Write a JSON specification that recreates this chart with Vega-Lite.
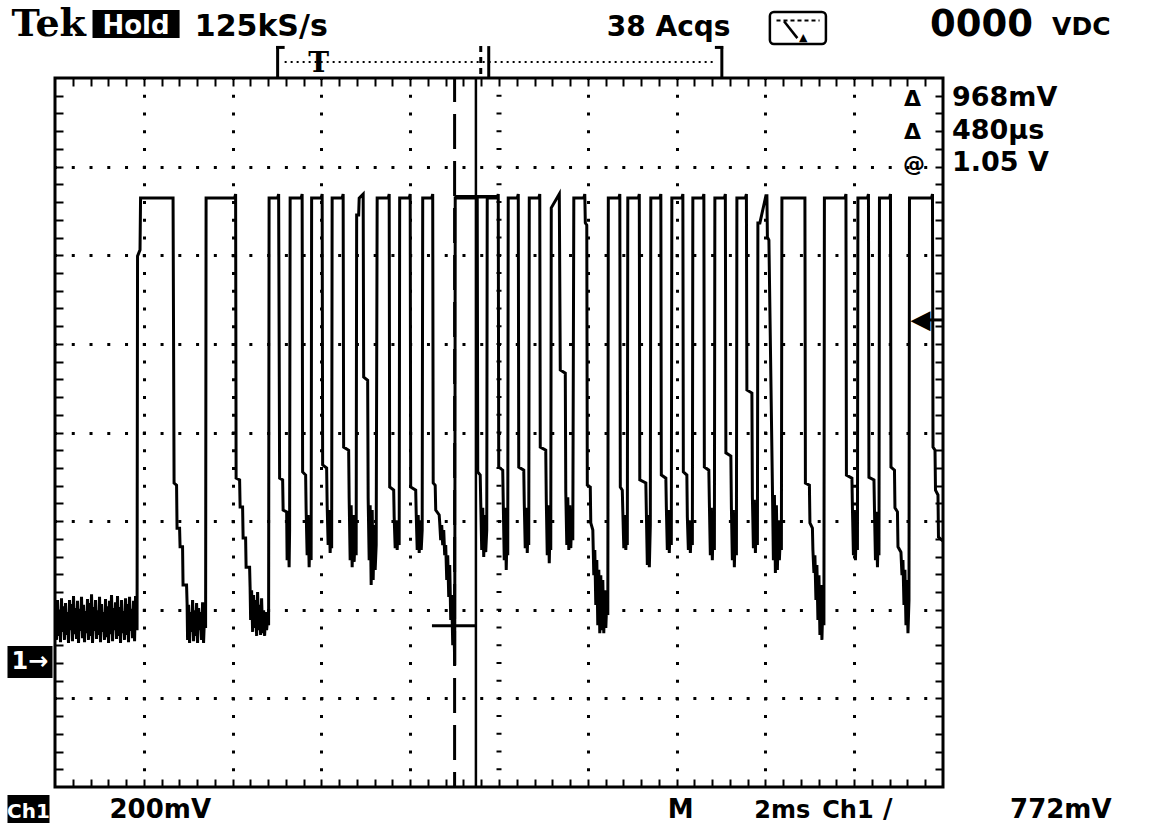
{
"$schema":"https://vega.github.io/schema/vega-lite/v6.json",
"width":888,"height":709,
"autosize":{"type":"none"},
"padding":{"left":55,"top":78,"right":213,"bottom":42},
"background":"white",
"config":{"view":{"stroke":"black","strokeWidth":3},"font":"DejaVu Sans"},
"resolve":{"axis":{"x":"independent","y":"independent"}},
"datasets":{"wave":[
{"t":0.011,"v":0.129},{"t":0.034,"v":0.050},{"t":0.056,"v":0.140},{"t":0.079,"v":0.059},{"t":0.101,"v":0.117},{"t":0.124,"v":0.045},{"t":0.146,"v":0.144},{"t":0.169,"v":0.068},{"t":0.192,"v":0.126},{"t":0.214,"v":0.050},{"t":0.237,"v":0.133},{"t":0.259,"v":0.061},{"t":0.282,"v":0.113},{"t":0.304,"v":0.043},{"t":0.327,"v":0.140},{"t":0.349,"v":0.072},{"t":0.372,"v":0.131},{"t":0.394,"v":0.047},{"t":0.417,"v":0.149},{"t":0.439,"v":0.063},{"t":0.462,"v":0.122},{"t":0.485,"v":0.052},{"t":0.507,"v":0.138},{"t":0.530,"v":0.043},{"t":0.552,"v":0.120},{"t":0.575,"v":0.070},{"t":0.597,"v":0.147},{"t":0.620,"v":0.054},{"t":0.642,"v":0.129},{"t":0.665,"v":0.045},{"t":0.687,"v":0.115},{"t":0.710,"v":0.065},{"t":0.732,"v":0.142},{"t":0.755,"v":0.050},{"t":0.777,"v":0.133},{"t":0.800,"v":0.059},{"t":0.823,"v":0.153},{"t":0.845,"v":0.043},{"t":0.868,"v":0.124},{"t":0.890,"v":0.070},{"t":0.913,"v":0.140},{"t":0.935,"v":0.052},{"t":0.958,"v":0.117},{"t":0.980,"v":0.061},{"t":1.003,"v":0.147},{"t":1.025,"v":0.045},{"t":1.048,"v":0.131},{"t":1.070,"v":0.068},{"t":1.093,"v":0.113},{"t":1.115,"v":0.050},{"t":1.138,"v":0.142},{"t":1.161,"v":0.056},{"t":1.183,"v":0.126},{"t":1.206,"v":0.043},{"t":1.228,"v":0.138},{"t":1.251,"v":0.063},{"t":1.273,"v":0.151},{"t":1.296,"v":0.047},{"t":1.318,"v":0.122},{"t":1.341,"v":0.072},{"t":1.363,"v":0.135},{"t":1.386,"v":0.052},{"t":1.408,"v":0.149},{"t":1.431,"v":0.059},{"t":1.454,"v":0.124},{"t":1.476,"v":0.043},{"t":1.499,"v":0.140},{"t":1.521,"v":0.065},{"t":1.544,"v":0.115},{"t":1.566,"v":0.050},{"t":1.589,"v":0.144},{"t":1.611,"v":0.061},{"t":1.634,"v":0.131},{"t":1.656,"v":0.045},{"t":1.679,"v":0.147},{"t":1.701,"v":0.070},{"t":1.724,"v":0.120},{"t":1.746,"v":0.054},{"t":1.769,"v":0.138},{"t":1.792,"v":0.047},{"t":1.814,"v":0.149},
{"t":1.848,"v":0.072},{"t":1.859,"v":0.916},{"t":1.915,"v":0.930},{"t":1.927,"v":1.047},{"t":2.659,"v":1.047},{"t":2.682,"v":0.404},{"t":2.738,"v":0.399},{"t":2.749,"v":0.302},{"t":2.806,"v":0.302},{"t":2.817,"v":0.260},{"t":2.873,"v":0.260},{"t":2.884,"v":0.174},{"t":2.963,"v":0.174},{"t":2.975,"v":0.133},
{"t":2.986,"v":0.050},{"t":3.008,"v":0.129},{"t":3.031,"v":0.043},{"t":3.053,"v":0.113},{"t":3.076,"v":0.068},{"t":3.099,"v":0.140},{"t":3.121,"v":0.047},{"t":3.144,"v":0.117},{"t":3.166,"v":0.059},{"t":3.189,"v":0.133},{"t":3.211,"v":0.043},{"t":3.234,"v":0.122},{"t":3.256,"v":0.072},{"t":3.279,"v":0.113},{"t":3.301,"v":0.050},{"t":3.324,"v":0.135},{"t":3.346,"v":0.043},{"t":3.369,"v":0.106},{"t":3.392,"v":0.077},
{"t":3.403,"v":1.047},{"t":4.045,"v":1.047},{"t":4.068,"v":1.056},{"t":4.079,"v":0.415},{"t":4.158,"v":0.411},{"t":4.169,"v":0.350},{"t":4.225,"v":0.350},{"t":4.237,"v":0.280},{"t":4.293,"v":0.280},{"t":4.304,"v":0.214},{"t":4.383,"v":0.214},{"t":4.394,"v":0.169},
{"t":4.406,"v":0.095},{"t":4.428,"v":0.162},{"t":4.451,"v":0.068},{"t":4.473,"v":0.151},{"t":4.496,"v":0.077},{"t":4.518,"v":0.140},{"t":4.541,"v":0.059},{"t":4.563,"v":0.158},{"t":4.586,"v":0.072},{"t":4.608,"v":0.129},{"t":4.631,"v":0.061},{"t":4.653,"v":0.144},{"t":4.676,"v":0.065},{"t":4.699,"v":0.117},{"t":4.721,"v":0.059},{"t":4.744,"v":0.113},{"t":4.766,"v":0.072},{"t":4.789,"v":0.099},{"t":4.811,"v":0.083},
{"t":4.822,"v":1.047},{"t":5.014,"v":1.047},{"t":5.037,"v":1.056},{"t":5.059,"v":0.415},{"t":5.127,"v":0.411},{"t":5.138,"v":0.343},{"t":5.217,"v":0.339},{"t":5.228,"v":0.230},{"t":5.251,"v":0.332},{"t":5.273,"v":0.214},{"t":5.284,"v":0.298},
{"t":5.296,"v":1.047},{"t":5.544,"v":1.047},{"t":5.566,"v":1.056},{"t":5.577,"v":0.429},{"t":5.645,"v":0.422},{"t":5.656,"v":0.343},{"t":5.679,"v":0.241},{"t":5.701,"v":0.332},{"t":5.724,"v":0.214},{"t":5.747,"v":0.309},{"t":5.769,"v":0.230},
{"t":5.780,"v":1.047},{"t":5.994,"v":1.047},{"t":6.017,"v":1.056},{"t":6.028,"v":0.445},{"t":6.118,"v":0.438},{"t":6.130,"v":0.352},{"t":6.152,"v":0.264},{"t":6.175,"v":0.343},{"t":6.197,"v":0.246},{"t":6.220,"v":0.320},{"t":6.231,"v":0.257},
{"t":6.242,"v":1.047},{"t":6.467,"v":1.047},{"t":6.490,"v":1.056},{"t":6.501,"v":0.485},{"t":6.614,"v":0.478},{"t":6.625,"v":0.370},{"t":6.648,"v":0.230},{"t":6.670,"v":0.354},{"t":6.693,"v":0.214},{"t":6.716,"v":0.332},{"t":6.738,"v":0.226},{"t":6.761,"v":0.298},{"t":6.783,"v":0.241},
{"t":6.794,"v":1.009},{"t":6.839,"v":1.009},{"t":6.851,"v":1.047},{"t":6.941,"v":1.056},{"t":6.952,"v":0.643},{"t":7.042,"v":0.636},{"t":7.053,"v":0.370},{"t":7.076,"v":0.230},{"t":7.098,"v":0.354},{"t":7.121,"v":0.174},{"t":7.144,"v":0.343},{"t":7.166,"v":0.185},{"t":7.189,"v":0.309},{"t":7.211,"v":0.208},{"t":7.234,"v":0.264},
{"t":7.256,"v":1.047},{"t":7.504,"v":1.047},{"t":7.527,"v":1.056},{"t":7.538,"v":0.395},{"t":7.628,"v":0.388},{"t":7.639,"v":0.327},{"t":7.662,"v":0.257},{"t":7.684,"v":0.320},{"t":7.707,"v":0.253},{"t":7.729,"v":0.309},{"t":7.752,"v":0.264},
{"t":7.763,"v":1.047},{"t":7.977,"v":1.047},{"t":8.000,"v":1.056},{"t":8.011,"v":0.395},{"t":8.124,"v":0.388},{"t":8.135,"v":0.336},{"t":8.158,"v":0.253},{"t":8.180,"v":0.332},{"t":8.203,"v":0.246},{"t":8.225,"v":0.320},{"t":8.248,"v":0.253},{"t":8.270,"v":0.298},
{"t":8.282,"v":1.047},{"t":8.485,"v":1.047},{"t":8.507,"v":1.056},{"t":8.518,"v":0.404},{"t":8.563,"v":0.399},{"t":8.575,"v":0.343},{"t":8.653,"v":0.332},{"t":8.665,"v":0.314},{"t":8.687,"v":0.275},{"t":8.710,"v":0.309},{"t":8.732,"v":0.264},{"t":8.755,"v":0.298},{"t":8.777,"v":0.241},{"t":8.800,"v":0.264},{"t":8.823,"v":0.185},{"t":8.845,"v":0.241},{"t":8.868,"v":0.147},{"t":8.890,"v":0.219},{"t":8.913,"v":0.095},{"t":8.935,"v":0.151},{"t":8.958,"v":0.038},{"t":8.980,"v":0.117},{"t":9.003,"v":-0.007},
{"t":9.014,"v":1.047},{"t":9.510,"v":1.047},{"t":9.521,"v":0.429},{"t":9.577,"v":0.422},{"t":9.589,"v":0.359},{"t":9.611,"v":0.253},{"t":9.634,"v":0.348},{"t":9.656,"v":0.237},{"t":9.679,"v":0.332},{"t":9.701,"v":0.248},{"t":9.724,"v":0.298},
{"t":9.735,"v":1.047},{"t":9.960,"v":1.047},{"t":9.983,"v":1.056},{"t":9.994,"v":0.440},{"t":10.084,"v":0.433},{"t":10.096,"v":0.359},{"t":10.118,"v":0.230},{"t":10.141,"v":0.348},{"t":10.163,"v":0.208},{"t":10.186,"v":0.320},{"t":10.197,"v":0.241},
{"t":10.208,"v":1.047},{"t":10.411,"v":1.047},{"t":10.434,"v":1.056},{"t":10.445,"v":0.440},{"t":10.558,"v":0.433},{"t":10.569,"v":0.359},{"t":10.591,"v":0.257},{"t":10.614,"v":0.348},{"t":10.637,"v":0.246},{"t":10.659,"v":0.332},{"t":10.670,"v":0.264},
{"t":10.682,"v":1.047},{"t":10.896,"v":1.047},{"t":10.918,"v":1.056},{"t":10.929,"v":0.485},{"t":11.053,"v":0.478},{"t":11.065,"v":0.366},{"t":11.087,"v":0.241},{"t":11.110,"v":0.354},{"t":11.132,"v":0.223},{"t":11.155,"v":0.332},{"t":11.166,"v":0.253},
{"t":11.177,"v":1.025},{"t":11.358,"v":1.056},{"t":11.380,"v":0.659},{"t":11.493,"v":0.652},{"t":11.504,"v":0.384},{"t":11.527,"v":0.264},{"t":11.549,"v":0.372},{"t":11.572,"v":0.253},{"t":11.594,"v":0.354},{"t":11.617,"v":0.257},{"t":11.640,"v":0.332},{"t":11.662,"v":0.275},
{"t":11.685,"v":1.047},{"t":11.910,"v":1.047},{"t":11.932,"v":1.056},{"t":11.944,"v":0.991},{"t":11.977,"v":0.986},{"t":11.989,"v":0.399},{"t":12.056,"v":0.395},{"t":12.067,"v":0.314},{"t":12.113,"v":0.298},{"t":12.135,"v":0.196},{"t":12.158,"v":0.253},{"t":12.180,"v":0.129},{"t":12.203,"v":0.230},{"t":12.225,"v":0.083},{"t":12.248,"v":0.208},{"t":12.270,"v":0.065},{"t":12.293,"v":0.196},{"t":12.315,"v":0.072},{"t":12.338,"v":0.185},{"t":12.360,"v":0.065},{"t":12.383,"v":0.162},{"t":12.406,"v":0.077},{"t":12.428,"v":0.140},{"t":12.451,"v":0.106},
{"t":12.462,"v":1.047},{"t":12.699,"v":1.047},{"t":12.721,"v":1.056},{"t":12.732,"v":0.395},{"t":12.777,"v":0.388},{"t":12.789,"v":0.339},{"t":12.811,"v":0.257},{"t":12.834,"v":0.332},{"t":12.856,"v":0.253},{"t":12.879,"v":0.320},{"t":12.890,"v":0.264},
{"t":12.901,"v":1.047},{"t":13.138,"v":1.047},{"t":13.160,"v":1.056},{"t":13.171,"v":0.411},{"t":13.307,"v":0.404},{"t":13.318,"v":0.343},{"t":13.341,"v":0.219},{"t":13.363,"v":0.332},{"t":13.386,"v":0.214},{"t":13.408,"v":0.309},
{"t":13.419,"v":1.047},{"t":13.622,"v":1.047},{"t":13.645,"v":1.056},{"t":13.656,"v":0.422},{"t":13.758,"v":0.415},{"t":13.769,"v":0.350},{"t":13.791,"v":0.253},{"t":13.814,"v":0.343},{"t":13.836,"v":0.246},{"t":13.859,"v":0.325},{"t":13.881,"v":0.264},
{"t":13.893,"v":1.047},{"t":14.118,"v":1.047},{"t":14.141,"v":1.056},{"t":14.152,"v":0.429},{"t":14.231,"v":0.422},{"t":14.242,"v":0.327},{"t":14.265,"v":0.253},{"t":14.287,"v":0.320},{"t":14.310,"v":0.246},{"t":14.332,"v":0.309},{"t":14.355,"v":0.264},
{"t":14.366,"v":1.047},{"t":14.591,"v":1.047},{"t":14.614,"v":1.056},{"t":14.625,"v":0.440},{"t":14.726,"v":0.433},{"t":14.738,"v":0.359},{"t":14.760,"v":0.241},{"t":14.783,"v":0.348},{"t":14.805,"v":0.230},{"t":14.828,"v":0.332},{"t":14.851,"v":0.253},
{"t":14.862,"v":1.047},{"t":15.076,"v":1.047},{"t":15.098,"v":1.056},{"t":15.110,"v":0.472},{"t":15.222,"v":0.465},{"t":15.234,"v":0.350},{"t":15.256,"v":0.230},{"t":15.279,"v":0.343},{"t":15.301,"v":0.214},{"t":15.324,"v":0.325},{"t":15.347,"v":0.241},
{"t":15.358,"v":1.047},{"t":15.549,"v":1.047},{"t":15.572,"v":1.056},{"t":15.583,"v":0.614},{"t":15.696,"v":0.607},{"t":15.707,"v":0.372},{"t":15.730,"v":0.257},{"t":15.752,"v":0.366},{"t":15.775,"v":0.246},{"t":15.797,"v":0.343},{"t":15.820,"v":0.264},
{"t":15.831,"v":0.991},{"t":15.876,"v":0.991},{"t":16.011,"v":1.052},{"t":16.034,"v":1.052},{"t":16.045,"v":0.959},{"t":16.079,"v":0.952},{"t":16.158,"v":0.395},{"t":16.180,"v":0.230},{"t":16.203,"v":0.377},{"t":16.225,"v":0.201},{"t":16.248,"v":0.354},{"t":16.270,"v":0.208},{"t":16.293,"v":0.320},{"t":16.315,"v":0.230},{"t":16.338,"v":0.287},{"t":16.360,"v":0.253},
{"t":16.372,"v":1.047},{"t":16.890,"v":1.047},{"t":16.901,"v":0.404},{"t":16.991,"v":0.399},{"t":17.003,"v":0.314},{"t":17.059,"v":0.302},{"t":17.070,"v":0.253},{"t":17.093,"v":0.201},{"t":17.115,"v":0.241},{"t":17.138,"v":0.140},{"t":17.160,"v":0.219},{"t":17.183,"v":0.095},{"t":17.206,"v":0.196},{"t":17.228,"v":0.061},{"t":17.251,"v":0.174},{"t":17.273,"v":0.050},{"t":17.296,"v":0.140},{"t":17.318,"v":0.083},
{"t":17.329,"v":1.047},{"t":17.791,"v":1.047},{"t":17.814,"v":1.056},{"t":17.825,"v":0.422},{"t":17.949,"v":0.415},{"t":17.960,"v":0.348},{"t":17.983,"v":0.241},{"t":18.005,"v":0.343},{"t":18.028,"v":0.230},{"t":18.051,"v":0.325},{"t":18.073,"v":0.253},
{"t":18.084,"v":1.047},{"t":18.298,"v":1.047},{"t":18.321,"v":1.056},{"t":18.332,"v":0.417},{"t":18.445,"v":0.411},{"t":18.456,"v":0.348},{"t":18.479,"v":0.230},{"t":18.501,"v":0.339},{"t":18.524,"v":0.214},{"t":18.546,"v":0.320},{"t":18.558,"v":0.241},
{"t":18.569,"v":1.047},{"t":18.794,"v":1.047},{"t":18.817,"v":1.056},{"t":18.828,"v":0.440},{"t":18.907,"v":0.433},{"t":18.918,"v":0.348},{"t":18.974,"v":0.339},{"t":18.986,"v":0.260},{"t":19.053,"v":0.248},{"t":19.076,"v":0.196},{"t":19.098,"v":0.230},{"t":19.121,"v":0.129},{"t":19.143,"v":0.208},{"t":19.166,"v":0.083},{"t":19.188,"v":0.185},{"t":19.211,"v":0.065},{"t":19.234,"v":0.140},
{"t":19.245,"v":1.047},{"t":19.741,"v":1.047},{"t":19.763,"v":1.056},{"t":19.775,"v":0.485},{"t":19.820,"v":0.478},{"t":19.831,"v":0.388},{"t":19.887,"v":0.377},{"t":19.898,"v":0.282},{"t":19.977,"v":0.275}
]},
"layer":[
{"data":{"values":[{}]},"mark":{"type":"point","opacity":0},
 "encoding":{
  "x":{"datum":1,"type":"quantitative","scale":{"domain":[0,20],"nice":false,"zero":false},"axis":{"orient":"bottom","values":[2,4,6,8,12,14,16,18],"grid":true,"gridColor":"black","gridWidth":3,"gridOpacity":1,"gridDash":[3,14.725],"gridDashOffset":1.5,"ticks":false,"labels":false,"domain":false,"title":null}},
  "y":{"datum":0.5,"type":"quantitative","scale":{"domain":[-0.282,1.318],"nice":false,"zero":false},"axis":{"orient":"left","values":[-0.082,0.118,0.318,0.518,0.718,0.918,1.118],"grid":true,"gridColor":"black","gridWidth":3,"gridOpacity":1,"gridDash":[3,14.76],"gridDashOffset":1.5,"ticks":false,"labels":false,"domain":false,"title":null}}}},
{"data":{"values":[{}]},"mark":{"type":"point","opacity":0},
 "encoding":{
  "x":{"datum":1,"type":"quantitative","scale":{"domain":[0,20],"nice":false,"zero":false},"axis":{"orient":"bottom","values":[0.4,0.8,1.2,1.6,2,2.4,2.8,3.2,3.6,4,4.4,4.8,5.2,5.6,6,6.4,6.8,7.2,7.6,8,8.4,8.8,9.2,9.6,10,10.4,10.8,11.2,11.6,12,12.4,12.8,13.2,13.6,14,14.4,14.8,15.2,15.6,16,16.4,16.8,17.2,17.6,18,18.4,18.8,19.2,19.6],"grid":false,"ticks":true,"tickSize":-8,"tickWidth":2,"tickColor":"black","tickOpacity":1,"labels":false,"domain":false,"title":null}},
  "y":{"datum":0.5,"type":"quantitative","scale":{"domain":[-0.282,1.318],"nice":false,"zero":false},"axis":{"orient":"left","values":[-0.242,-0.202,-0.162,-0.122,-0.082,-0.042,-0.002,0.038,0.078,0.118,0.158,0.198,0.238,0.278,0.318,0.358,0.398,0.438,0.478,0.518,0.558,0.598,0.638,0.678,0.718,0.758,0.798,0.838,0.878,0.918,0.958,0.998,1.038,1.078,1.118,1.158,1.198,1.238,1.278],"grid":false,"ticks":true,"tickSize":-8,"tickWidth":2,"tickColor":"black","tickOpacity":1,"labels":false,"domain":false,"title":null}}}},
{"data":{"values":[{}]},"mark":{"type":"point","opacity":0},
 "encoding":{
  "x":{"datum":1,"type":"quantitative","scale":{"domain":[0,20],"nice":false,"zero":false},"axis":{"orient":"top","values":[0.4,0.8,1.2,1.6,2,2.4,2.8,3.2,3.6,4,4.4,4.8,5.2,5.6,6,6.4,6.8,7.2,7.6,8,8.4,8.8,9.2,9.6,10,10.4,10.8,11.2,11.6,12,12.4,12.8,13.2,13.6,14,14.4,14.8,15.2,15.6,16,16.4,16.8,17.2,17.6,18,18.4,18.8,19.2,19.6],"grid":false,"ticks":true,"tickSize":-8,"tickWidth":2,"tickColor":"black","tickOpacity":1,"labels":false,"domain":false,"title":null}},
  "y":{"datum":0.5,"type":"quantitative","scale":{"domain":[-0.282,1.318],"nice":false,"zero":false},"axis":{"orient":"right","values":[-0.242,-0.202,-0.162,-0.122,-0.082,-0.042,-0.002,0.038,0.078,0.118,0.158,0.198,0.238,0.278,0.318,0.358,0.398,0.438,0.478,0.518,0.558,0.598,0.638,0.678,0.718,0.758,0.798,0.838,0.878,0.918,0.958,0.998,1.038,1.078,1.118,1.158,1.198,1.238,1.278],"grid":false,"ticks":true,"tickSize":-8,"tickWidth":2,"tickColor":"black","tickOpacity":1,"labels":false,"domain":false,"title":null}}}},
{"data":{"values":[{}]},"mark":{"type":"rule","color":"black","strokeWidth":5,"strokeDash":[2,15.725],"strokeDashOffset":1},
 "encoding":{"x":{"datum":10,"type":"quantitative","scale":{"domain":[0,20],"nice":false,"zero":false},"axis":null},"y":{"datum":1.318,"type":"quantitative","scale":{"domain":[-0.282,1.318],"nice":false,"zero":false},"axis":null},"y2":{"datum":-0.282}}},
{"data":{"name":"wave"},"mark":{"type":"line","color":"black","strokeWidth":3,"strokeJoin":"miter","strokeCap":"square"},
 "encoding":{"x":{"field":"t","type":"quantitative","scale":{"domain":[0,20],"nice":false,"zero":false},"axis":null},"y":{"field":"v","type":"quantitative","scale":{"domain":[-0.282,1.318],"nice":false,"zero":false},"axis":null},"order":{"value":null}}},
{"data":{"values":[{}]},"mark":{"type":"rule","color":"black","strokeWidth":3,"strokeDash":[35,12],"strokeDashOffset":11},
 "encoding":{"x":{"datum":9.0,"type":"quantitative","scale":{"domain":[0,20],"nice":false,"zero":false},"axis":null},"y":{"datum":1.318,"type":"quantitative","scale":{"domain":[-0.282,1.318],"nice":false,"zero":false},"axis":null},"y2":{"datum":-0.282}}},
{"data":{"values":[{}]},"mark":{"type":"rule","color":"black","strokeWidth":2.5},
 "encoding":{"x":{"datum":9.48,"type":"quantitative","scale":{"domain":[0,20],"nice":false,"zero":false},"axis":null},"y":{"datum":1.318,"type":"quantitative","scale":{"domain":[-0.282,1.318],"nice":false,"zero":false},"axis":null},"y2":{"datum":-0.282}}},
{"data":{"values":[{}]},"mark":{"type":"rule","color":"black","strokeWidth":3.5},
 "encoding":{"x":{"datum":9.0,"type":"quantitative","scale":{"domain":[0,20],"nice":false,"zero":false},"axis":null},"x2":{"datum":9.97},"y":{"datum":1.05,"type":"quantitative","scale":{"domain":[-0.282,1.318],"nice":false,"zero":false},"axis":null}}},
{"data":{"values":[{}]},"mark":{"type":"rule","color":"black","strokeWidth":3},
 "encoding":{"x":{"datum":8.49,"type":"quantitative","scale":{"domain":[0,20],"nice":false,"zero":false},"axis":null},"x2":{"datum":9.48},"y":{"datum":0.082,"type":"quantitative","scale":{"domain":[-0.282,1.318],"nice":false,"zero":false},"axis":null}}},
{"data":{"values":[{}]},"mark":{"type":"rule","color":"black","strokeWidth":3},
 "encoding":{"x":{"datum":19.55,"type":"quantitative","scale":{"domain":[0,20],"nice":false,"zero":false},"axis":null},"x2":{"datum":20},"y":{"datum":0.772,"type":"quantitative","scale":{"domain":[-0.282,1.318],"nice":false,"zero":false},"axis":null}}},
{"data":{"values":[{}]},"mark":{"type":"text","text":"◀","fontSize":26,"align":"left","baseline":"middle","color":"black"},
 "encoding":{"x":{"datum":19.27,"type":"quantitative","scale":{"domain":[0,20],"nice":false,"zero":false},"axis":null},"y":{"datum":0.772,"type":"quantitative","scale":{"domain":[-0.282,1.318],"nice":false,"zero":false},"axis":null}}},
{"data":{"values":[{}]},"mark":{"type":"text","text":"Tek","font":"DejaVu Serif","fontWeight":"bold","fontSize":38,"align":"left","baseline":"alphabetic","color":"black"},
 "encoding":{"x":{"datum":-0.98,"type":"quantitative","scale":{"domain":[0,20],"nice":false,"zero":false},"axis":null},"y":{"datum":1.413,"type":"quantitative","scale":{"domain":[-0.282,1.318],"nice":false,"zero":false},"axis":null}}},
{"data":{"values":[{}]},"mark":{"type":"rect","color":"black"},
 "encoding":{"x":{"datum":0.845,"type":"quantitative","scale":{"domain":[0,20],"nice":false,"zero":false},"axis":null},"x2":{"datum":2.806},"y":{"datum":1.4714,"type":"quantitative","scale":{"domain":[-0.282,1.318],"nice":false,"zero":false},"axis":null},"y2":{"datum":1.4082}}},
{"data":{"values":[{}]},"mark":{"type":"text","text":"Hold","fontWeight":"bold","fontSize":26,"align":"center","baseline":"alphabetic","color":"white"},
 "encoding":{"x":{"datum":1.825,"type":"quantitative","scale":{"domain":[0,20],"nice":false,"zero":false},"axis":null},"y":{"datum":1.4172,"type":"quantitative","scale":{"domain":[-0.282,1.318],"nice":false,"zero":false},"axis":null}}},
{"data":{"values":[{}]},"mark":{"type":"text","text":"125kS/s","fontWeight":"bold","fontSize":30,"align":"left","baseline":"alphabetic","color":"black"},
 "encoding":{"x":{"datum":3.148,"type":"quantitative","scale":{"domain":[0,20],"nice":false,"zero":false},"axis":null},"y":{"datum":1.413,"type":"quantitative","scale":{"domain":[-0.282,1.318],"nice":false,"zero":false},"axis":null}}},
{"data":{"values":[{}]},"mark":{"type":"text","text":"38 Acqs","fontWeight":"bold","fontSize":28,"align":"left","baseline":"alphabetic","color":"black"},
 "encoding":{"x":{"datum":12.428,"type":"quantitative","scale":{"domain":[0,20],"nice":false,"zero":false},"axis":null},"y":{"datum":1.413,"type":"quantitative","scale":{"domain":[-0.282,1.318],"nice":false,"zero":false},"axis":null}}},
{"data":{"values":[{}]},"mark":{"type":"rect","fill":null,"stroke":"black","strokeWidth":2.5,"cornerRadius":4},
 "encoding":{"x":{"datum":16.101,"type":"quantitative","scale":{"domain":[0,20],"nice":false,"zero":false},"axis":null},"x2":{"datum":17.363},"y":{"datum":1.4669,"type":"quantitative","scale":{"domain":[-0.282,1.318],"nice":false,"zero":false},"axis":null},"y2":{"datum":1.3946}}},
{"data":{"values":[{}]},"mark":{"type":"rule","color":"black","strokeWidth":2,"strokeDash":[4,3]},
 "encoding":{"x":{"datum":16.25,"type":"quantitative","scale":{"domain":[0,20],"nice":false,"zero":false},"axis":null},"x2":{"datum":17.22},"y":{"datum":1.448,"type":"quantitative","scale":{"domain":[-0.282,1.318],"nice":false,"zero":false},"axis":null}}},
{"data":{"values":[{}]},"mark":{"type":"rule","color":"black","strokeWidth":2.5},
 "encoding":{"x":{"datum":16.42,"type":"quantitative","scale":{"domain":[0,20],"nice":false,"zero":false},"axis":null},"x2":{"datum":16.72},"y":{"datum":1.446,"type":"quantitative","scale":{"domain":[-0.282,1.318],"nice":false,"zero":false},"axis":null},"y2":{"datum":1.408}}},
{"data":{"values":[{}]},"mark":{"type":"text","text":"▲","fontSize":11,"align":"center","baseline":"alphabetic","color":"black"},
 "encoding":{"x":{"datum":16.85,"type":"quantitative","scale":{"domain":[0,20],"nice":false,"zero":false},"axis":null},"y":{"datum":1.402,"type":"quantitative","scale":{"domain":[-0.282,1.318],"nice":false,"zero":false},"axis":null}}},
{"data":{"values":[{}]},"mark":{"type":"text","text":"0000","fontWeight":"bold","fontSize":37,"align":"left","baseline":"alphabetic","color":"black"},
 "encoding":{"x":{"datum":19.707,"type":"quantitative","scale":{"domain":[0,20],"nice":false,"zero":false},"axis":null},"y":{"datum":1.413,"type":"quantitative","scale":{"domain":[-0.282,1.318],"nice":false,"zero":false},"axis":null}}},
{"data":{"values":[{}]},"mark":{"type":"text","text":"VDC","fontWeight":"bold","fontSize":25,"align":"left","baseline":"alphabetic","color":"black"},
 "encoding":{"x":{"datum":22.456,"type":"quantitative","scale":{"domain":[0,20],"nice":false,"zero":false},"axis":null},"y":{"datum":1.416,"type":"quantitative","scale":{"domain":[-0.282,1.318],"nice":false,"zero":false},"axis":null}}},
{"data":{"values":[{}]},"mark":{"type":"rule","color":"black","strokeWidth":3},
 "encoding":{"x":{"datum":5.014,"type":"quantitative","scale":{"domain":[0,20],"nice":false,"zero":false},"axis":null},"y":{"datum":1.390,"type":"quantitative","scale":{"domain":[-0.282,1.318],"nice":false,"zero":false},"axis":null},"y2":{"datum":1.318}}},
{"data":{"values":[{}]},"mark":{"type":"rule","color":"black","strokeWidth":3},
 "encoding":{"x":{"datum":4.98,"type":"quantitative","scale":{"domain":[0,20],"nice":false,"zero":false},"axis":null},"x2":{"datum":5.172},"y":{"datum":1.387,"type":"quantitative","scale":{"domain":[-0.282,1.318],"nice":false,"zero":false},"axis":null}}},
{"data":{"values":[{}]},"mark":{"type":"rule","color":"black","strokeWidth":2,"strokeDash":[2,4]},
 "encoding":{"x":{"datum":5.172,"type":"quantitative","scale":{"domain":[0,20],"nice":false,"zero":false},"axis":null},"x2":{"datum":14.884},"y":{"datum":1.354,"type":"quantitative","scale":{"domain":[-0.282,1.318],"nice":false,"zero":false},"axis":null}}},
{"data":{"values":[{}]},"mark":{"type":"text","text":"T","font":"DejaVu Serif","fontWeight":"bold","fontSize":28,"align":"center","baseline":"alphabetic","color":"black"},
 "encoding":{"x":{"datum":5.938,"type":"quantitative","scale":{"domain":[0,20],"nice":false,"zero":false},"axis":null},"y":{"datum":1.331,"type":"quantitative","scale":{"domain":[-0.282,1.318],"nice":false,"zero":false},"axis":null}}},
{"data":{"values":[{}]},"mark":{"type":"rule","color":"black","strokeWidth":3,"strokeDash":[6,5]},
 "encoding":{"x":{"datum":9.589,"type":"quantitative","scale":{"domain":[0,20],"nice":false,"zero":false},"axis":null},"y":{"datum":1.390,"type":"quantitative","scale":{"domain":[-0.282,1.318],"nice":false,"zero":false},"axis":null},"y2":{"datum":1.318}}},
{"data":{"values":[{}]},"mark":{"type":"rule","color":"black","strokeWidth":3},
 "encoding":{"x":{"datum":9.769,"type":"quantitative","scale":{"domain":[0,20],"nice":false,"zero":false},"axis":null},"y":{"datum":1.390,"type":"quantitative","scale":{"domain":[-0.282,1.318],"nice":false,"zero":false},"axis":null},"y2":{"datum":1.318}}},
{"data":{"values":[{}]},"mark":{"type":"rule","color":"black","strokeWidth":3},
 "encoding":{"x":{"datum":15.019,"type":"quantitative","scale":{"domain":[0,20],"nice":false,"zero":false},"axis":null},"y":{"datum":1.390,"type":"quantitative","scale":{"domain":[-0.282,1.318],"nice":false,"zero":false},"axis":null},"y2":{"datum":1.318}}},
{"data":{"values":[{}]},"mark":{"type":"rule","color":"black","strokeWidth":3},
 "encoding":{"x":{"datum":14.862,"type":"quantitative","scale":{"domain":[0,20],"nice":false,"zero":false},"axis":null},"x2":{"datum":15.05},"y":{"datum":1.387,"type":"quantitative","scale":{"domain":[-0.282,1.318],"nice":false,"zero":false},"axis":null}}},
{"data":{"values":[{}]},"mark":{"type":"text","text":"Δ","fontWeight":"bold","fontSize":22,"align":"left","baseline":"alphabetic","color":"black"},
 "encoding":{"x":{"datum":19.12,"type":"quantitative","scale":{"domain":[0,20],"nice":false,"zero":false},"axis":null},"y":{"datum":1.2547,"type":"quantitative","scale":{"domain":[-0.282,1.318],"nice":false,"zero":false},"axis":null}}},
{"data":{"values":[{}]},"mark":{"type":"text","text":"Δ","fontWeight":"bold","fontSize":22,"align":"left","baseline":"alphabetic","color":"black"},
 "encoding":{"x":{"datum":19.12,"type":"quantitative","scale":{"domain":[0,20],"nice":false,"zero":false},"axis":null},"y":{"datum":1.1803,"type":"quantitative","scale":{"domain":[-0.282,1.318],"nice":false,"zero":false},"axis":null}}},
{"data":{"values":[{}]},"mark":{"type":"text","text":"@","fontWeight":"bold","fontSize":22,"align":"left","baseline":"alphabetic","color":"black"},
 "encoding":{"x":{"datum":19.1,"type":"quantitative","scale":{"domain":[0,20],"nice":false,"zero":false},"axis":null},"y":{"datum":1.108,"type":"quantitative","scale":{"domain":[-0.282,1.318],"nice":false,"zero":false},"axis":null}}},
{"data":{"values":[{}]},"mark":{"type":"text","text":"968mV","fontWeight":"bold","fontSize":27,"align":"left","baseline":"alphabetic","color":"black"},
 "encoding":{"x":{"datum":20.203,"type":"quantitative","scale":{"domain":[0,20],"nice":false,"zero":false},"axis":null},"y":{"datum":1.2547,"type":"quantitative","scale":{"domain":[-0.282,1.318],"nice":false,"zero":false},"axis":null}}},
{"data":{"values":[{}]},"mark":{"type":"text","text":"480µs","fontWeight":"bold","fontSize":27,"align":"left","baseline":"alphabetic","color":"black"},
 "encoding":{"x":{"datum":20.203,"type":"quantitative","scale":{"domain":[0,20],"nice":false,"zero":false},"axis":null},"y":{"datum":1.1803,"type":"quantitative","scale":{"domain":[-0.282,1.318],"nice":false,"zero":false},"axis":null}}},
{"data":{"values":[{}]},"mark":{"type":"text","text":"1.05 V","fontWeight":"bold","fontSize":27,"align":"left","baseline":"alphabetic","color":"black"},
 "encoding":{"x":{"datum":20.203,"type":"quantitative","scale":{"domain":[0,20],"nice":false,"zero":false},"axis":null},"y":{"datum":1.108,"type":"quantitative","scale":{"domain":[-0.282,1.318],"nice":false,"zero":false},"axis":null}}},
{"data":{"values":[{}]},"mark":{"type":"rect","color":"black"},
 "encoding":{"x":{"datum":-1.07,"type":"quantitative","scale":{"domain":[0,20],"nice":false,"zero":false},"axis":null},"x2":{"datum":-0.056},"y":{"datum":0.036,"type":"quantitative","scale":{"domain":[-0.282,1.318],"nice":false,"zero":false},"axis":null},"y2":{"datum":-0.036}}},
{"data":{"values":[{}]},"mark":{"type":"text","text":"1→","fontWeight":"bold","fontSize":24,"align":"center","baseline":"middle","color":"white"},
 "encoding":{"x":{"datum":-0.563,"type":"quantitative","scale":{"domain":[0,20],"nice":false,"zero":false},"axis":null},"y":{"datum":0.0,"type":"quantitative","scale":{"domain":[-0.282,1.318],"nice":false,"zero":false},"axis":null}}},
{"data":{"values":[{}]},"mark":{"type":"rect","color":"black"},
 "encoding":{"x":{"datum":-1.07,"type":"quantitative","scale":{"domain":[0,20],"nice":false,"zero":false},"axis":null},"x2":{"datum":-0.124},"y":{"datum":-0.3001,"type":"quantitative","scale":{"domain":[-0.282,1.318],"nice":false,"zero":false},"axis":null},"y2":{"datum":-0.3633}}},
{"data":{"values":[{}]},"mark":{"type":"text","text":"Ch1","fontWeight":"bold","fontSize":20,"align":"center","baseline":"alphabetic","color":"white"},
 "encoding":{"x":{"datum":-0.597,"type":"quantitative","scale":{"domain":[0,20],"nice":false,"zero":false},"axis":null},"y":{"datum":-0.352,"type":"quantitative","scale":{"domain":[-0.282,1.318],"nice":false,"zero":false},"axis":null}}},
{"data":{"values":[{}]},"mark":{"type":"text","text":"200mV","fontWeight":"bold","fontSize":26,"align":"left","baseline":"alphabetic","color":"black"},
 "encoding":{"x":{"datum":1.228,"type":"quantitative","scale":{"domain":[0,20],"nice":false,"zero":false},"axis":null},"y":{"datum":-0.352,"type":"quantitative","scale":{"domain":[-0.282,1.318],"nice":false,"zero":false},"axis":null}}},
{"data":{"values":[{}]},"mark":{"type":"text","text":"M","fontWeight":"bold","fontSize":26,"align":"left","baseline":"alphabetic","color":"black"},
 "encoding":{"x":{"datum":13.803,"type":"quantitative","scale":{"domain":[0,20],"nice":false,"zero":false},"axis":null},"y":{"datum":-0.352,"type":"quantitative","scale":{"domain":[-0.282,1.318],"nice":false,"zero":false},"axis":null}}},
{"data":{"values":[{}]},"mark":{"type":"text","text":"2ms","fontWeight":"bold","fontSize":24,"align":"left","baseline":"alphabetic","color":"black"},
 "encoding":{"x":{"datum":15.75,"type":"quantitative","scale":{"domain":[0,20],"nice":false,"zero":false},"axis":null},"y":{"datum":-0.352,"type":"quantitative","scale":{"domain":[-0.282,1.318],"nice":false,"zero":false},"axis":null}}},
{"data":{"values":[{}]},"mark":{"type":"text","text":"Ch1","fontWeight":"bold","fontSize":24,"align":"left","baseline":"alphabetic","color":"black"},
 "encoding":{"x":{"datum":17.28,"type":"quantitative","scale":{"domain":[0,20],"nice":false,"zero":false},"axis":null},"y":{"datum":-0.352,"type":"quantitative","scale":{"domain":[-0.282,1.318],"nice":false,"zero":false},"axis":null}}},
{"data":{"values":[{}]},"mark":{"type":"text","text":"/","fontWeight":"bold","fontSize":26,"align":"left","baseline":"alphabetic","color":"black"},
 "encoding":{"x":{"datum":18.65,"type":"quantitative","scale":{"domain":[0,20],"nice":false,"zero":false},"axis":null},"y":{"datum":-0.352,"type":"quantitative","scale":{"domain":[-0.282,1.318],"nice":false,"zero":false},"axis":null}}},
{"data":{"values":[{}]},"mark":{"type":"text","text":"772mV","fontWeight":"bold","fontSize":26,"align":"left","baseline":"alphabetic","color":"black"},
 "encoding":{"x":{"datum":21.51,"type":"quantitative","scale":{"domain":[0,20],"nice":false,"zero":false},"axis":null},"y":{"datum":-0.352,"type":"quantitative","scale":{"domain":[-0.282,1.318],"nice":false,"zero":false},"axis":null}}}
]
}
